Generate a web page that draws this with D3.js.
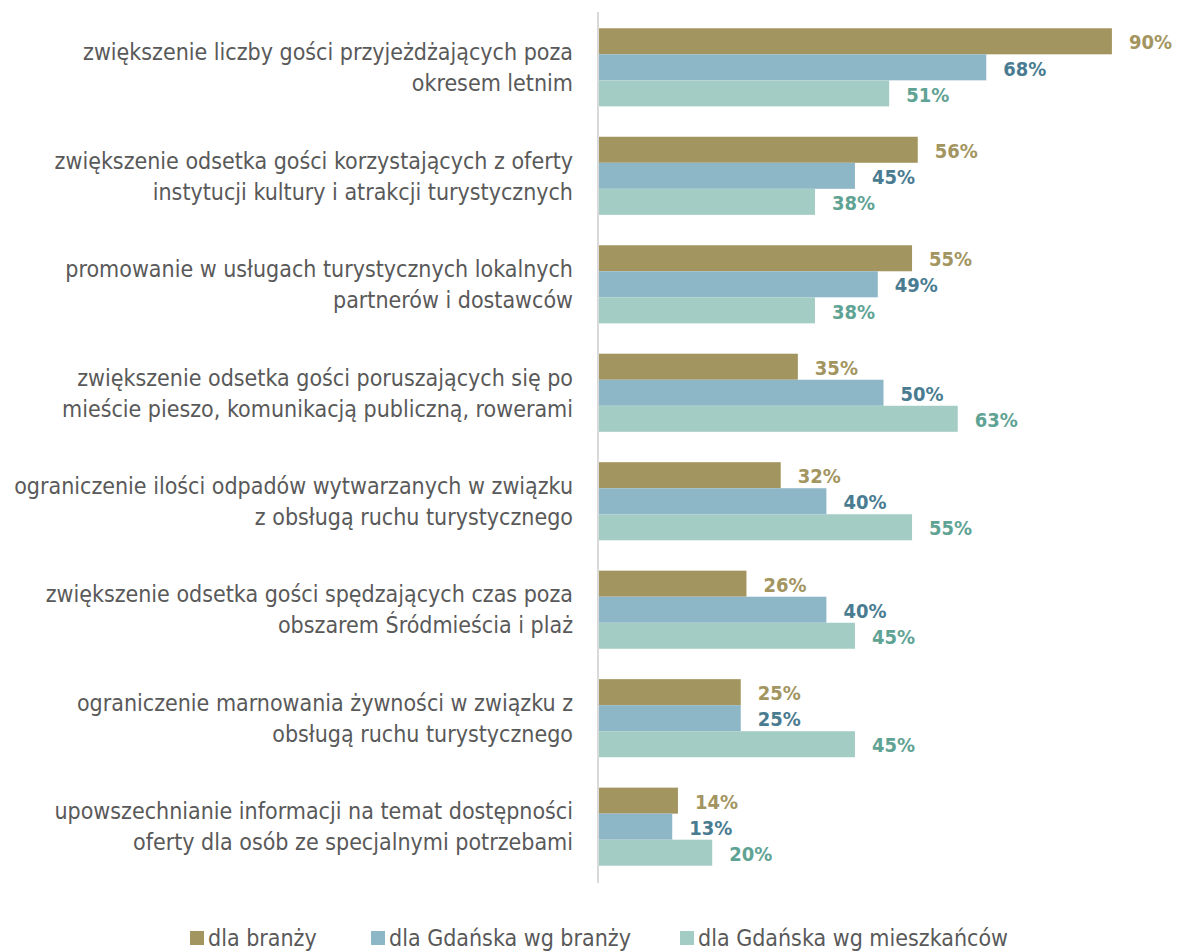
<!DOCTYPE html>
<html>
<head>
<meta charset="utf-8">
<script src="https://cdn.jsdelivr.net/npm/d3@7"></script>
<style>
  body { margin: 0; background: #fff; }
  svg { display: block; font-family: "DejaVu Sans Condensed", "DejaVu Sans", sans-serif; }
</style>
</head>
<body>
<svg id="chart" width="1178" height="952"></svg>
<script>
// Kategorie (każda w dwóch liniach, jak na oryginale)
var categories = [
  ["zwiększenie liczby gości przyjeżdżających poza", "okresem letnim"],
  ["zwiększenie odsetka gości korzystających z oferty", "instytucji kultury i atrakcji turystycznych"],
  ["promowanie w usługach turystycznych lokalnych", "partnerów i dostawców"],
  ["zwiększenie odsetka gości poruszających się po", "mieście pieszo, komunikacją publiczną, rowerami"],
  ["ograniczenie ilości odpadów wytwarzanych w związku", "z obsługą ruchu turystycznego"],
  ["zwiększenie odsetka gości spędzających czas poza", "obszarem Śródmieścia i plaż"],
  ["ograniczenie marnowania żywności w związku z", "obsługą ruchu turystycznego"],
  ["upowszechnianie informacji na temat dostępności", "oferty dla osób ze specjalnymi potrzebami"]
];

var seriesNames = ["dla branży", "dla Gdańska wg branży", "dla Gdańska wg mieszkańców"];
var branza      = [90, 56, 55, 35, 32, 26, 25, 14];
var gdanskBr    = [68, 45, 49, 50, 40, 40, 25, 13];
var gdanskMiesz = [51, 38, 38, 63, 55, 45, 45, 20];

var barColors   = ["#a39560", "#8db6c7", "#a3cdc4"];
var labelColors = ["#a39560", "#4a7c91", "#5fa394"];

var series = [branza, gdanskBr, gdanskMiesz];
var svg = d3.select("#chart");

var x0 = 598;
var x = d3.scaleLinear().domain([0, 100]).range([x0, x0 + 571]);
var y = d3.scaleBand().domain(d3.range(categories.length)).range([12, 882]).paddingInner(0.28).paddingOuter(0.15);
var ySub = d3.scaleBand().domain(d3.range(series.length)).range([0, y.bandwidth()]);

// słupki
var groups = svg.selectAll("g.grp").data(categories).join("g")
  .attr("class", "grp")
  .attr("transform", (d, i) => "translate(0," + y(i) + ")");

groups.each(function (d, i) {
  var g = d3.select(this);
  series.forEach((s, k) => {
    g.append("rect")
      .attr("x", x(0))
      .attr("y", ySub(k))
      .attr("width", x(s[i]) - x(0))
      .attr("height", ySub.bandwidth())
      .attr("fill", barColors[k]);
    g.append("text")
      .attr("x", x(s[i]) + 17)
      .attr("y", ySub(k) + ySub.bandwidth() / 2 + 1)
      .attr("dy", "0.36em")
      .attr("fill", labelColors[k])
      .attr("font-size", 20)
      .attr("font-weight", "bold")
      .text(s[i] + "%");
  });
});

// oś pionowa
svg.append("line")
  .attr("x1", x0).attr("x2", x0)
  .attr("y1", 12).attr("y2", 883)
  .attr("stroke", "#d9d9d9").attr("stroke-width", 2);

// etykiety kategorii
groups.append("text")
  .attr("text-anchor", "end")
  .attr("fill", "#595959")
  .attr("font-size", 23)
  .selectAll("tspan").data(d => d).join("tspan")
  .attr("x", 573)
  .attr("y", (d, j) => y.bandwidth() / 2 - 15.5 + j * 31)
  .attr("dy", "0.36em")
  .text(d => d);

// legenda
var legendX = [190, 371, 680];
var legend = svg.selectAll("g.leg").data(seriesNames).join("g")
  .attr("class", "leg")
  .attr("transform", (d, i) => "translate(" + legendX[i] + ",938)");
legend.append("rect")
  .attr("x", 0).attr("y", -7).attr("width", 14).attr("height", 14)
  .attr("fill", (d, i) => barColors[i]);
legend.append("text")
  .attr("x", 18).attr("dy", "0.36em")
  .attr("fill", "#595959").attr("font-size", 23)
  .text(d => d);
</script>
</body>
</html>
